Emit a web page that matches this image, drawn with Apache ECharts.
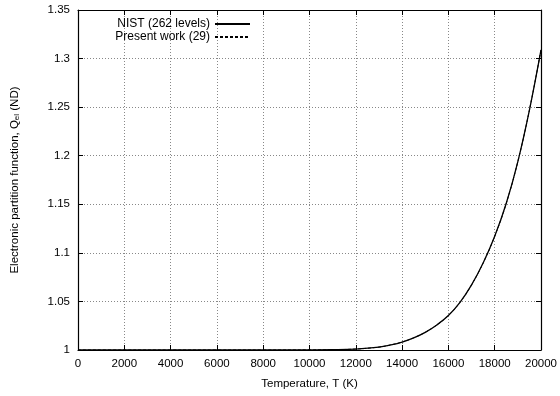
<!DOCTYPE html>
<html>
<head>
<meta charset="utf-8">
<script src="https://cdn.jsdelivr.net/npm/echarts@6/dist/echarts.min.js"></script>
<style>
  html, body { margin: 0; padding: 0; background: #fff; }
  #chart { width: 560px; height: 396px; }
</style>
</head>
<body>
<div id="chart"></div>
<script>
// temperature (K)
var temps = [0, 2000, 4000, 6000, 8000, 10000, 11000, 12000, 13000, 13500, 14000, 14500,
  15000, 15500, 16000, 16500, 17000, 17500, 18000, 18500, 19000, 19500, 20000]
// NIST (262 levels)
var nistQ = [1, 1, 1, 1, 1, 1.0001, 1.0003, 1.001, 1.003, 1.0052, 1.0082, 1.0125,
  1.0182, 1.0258, 1.0355, 1.049, 1.067, 1.0895, 1.117, 1.151, 1.194, 1.247, 1.309]
// Present work (29)
var presentQ = [1, 1, 1, 1, 1, 1.0001, 1.0003, 1.001, 1.003, 1.0052, 1.0082, 1.0125,
  1.0182, 1.0258, 1.0355, 1.049, 1.067, 1.0895, 1.117, 1.151, 1.194, 1.247, 1.309]

var font = 'Liberation Sans, Arial, Helvetica, sans-serif'

function pairs(xs, ys) {
  return xs.map(function(x, i) { return [x, ys[i]] })
}

var chart = echarts.init(document.getElementById('chart'))

var gridLine = { show: true, lineStyle: { color: '#888', type: [1, 2], width: 1 }}
var blackLine = { show: true, onZero: false, lineStyle: { color: '#000', width: 1.2 }}
var ticks = { show: true, inside: true, length: 5, lineStyle: { color: '#000' }}

var legendBase = {
  right: 304,
  align: 'right',
  itemWidth: 35,
  itemHeight: 8,
  itemGap: 9,
  itemStyle: { opacity: 0 },
  textStyle: { fontSize: 12, color: '#000', fontFamily: font }
}

chart.setOption({
  animation: false,
  textStyle: { fontFamily: font },
  grid: { left: 78, right: 19, top: 10, bottom: 46 },
  legend: [
    Object.assign({}, legendBase, { data: ['NIST (262 levels)'], top: 13 }),
    Object.assign({}, legendBase, { data: ['Present work (29)'], top: 26 })
  ],
  xAxis: [
    {
      type: 'value',
      min: 0,
      max: 20000,
      interval: 2000,
      name: 'Temperature, T (K)',
      nameLocation: 'middle',
      nameGap: 28,
      nameTextStyle: { fontSize: 11.5, color: '#000' },
      axisLine: blackLine,
      axisTick: ticks,
      axisLabel: { fontSize: 11.5, color: '#000', margin: 8, formatter: function(v) { return String(v) } },
      splitLine: gridLine
    },
    {
      type: 'value',
      position: 'top',
      min: 0,
      max: 20000,
      interval: 2000,
      axisLine: blackLine,
      axisTick: ticks,
      axisLabel: { show: false },
      splitLine: { show: false }
    }
  ],
  yAxis: [
    {
      type: 'value',
      min: 1,
      max: 1.35,
      interval: 0.05,
      name: 'Electronic partition function, Q{sub|el} (ND)',
      nameLocation: 'middle',
      nameGap: 57,
      nameTextStyle: {
        fontSize: 11.5,
        color: '#000',
        rich: { sub: { fontSize: 8, verticalAlign: 'bottom', padding: [4, 0, 0, 0] }}
      },
      axisLine: blackLine,
      axisTick: ticks,
      axisLabel: { fontSize: 11.5, color: '#000', margin: 8 },
      splitLine: gridLine
    },
    {
      type: 'value',
      position: 'right',
      min: 1,
      max: 1.35,
      interval: 0.05,
      axisLine: blackLine,
      axisTick: ticks,
      axisLabel: { show: false },
      splitLine: { show: false }
    }
  ],
  series: [
    {
      name: 'NIST (262 levels)',
      type: 'line',
      data: pairs(temps, nistQ),
      smooth: 0.4,
      showSymbol: false,
      symbol: 'none',
      lineStyle: { color: '#000', width: 1.3 },
      itemStyle: { color: '#000' }
    },
    {
      name: 'Present work (29)',
      type: 'line',
      data: pairs(temps, presentQ),
      smooth: 0.4,
      showSymbol: false,
      symbol: 'none',
      lineStyle: { color: '#000', width: 1, type: [3, 2] },
      itemStyle: { color: '#000' }
    }
  ]
})
</script>
</body>
</html>
